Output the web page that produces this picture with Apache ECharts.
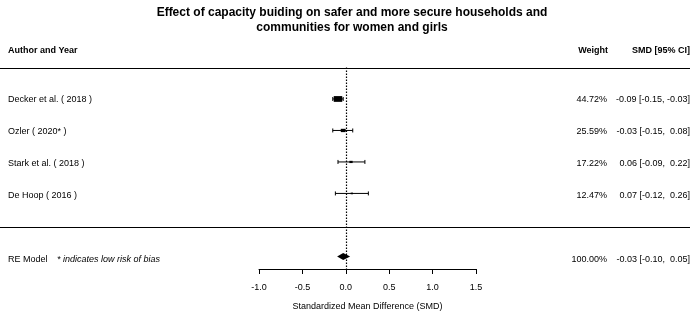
<!DOCTYPE html>
<html>
<head>
<meta charset="utf-8">
<script src="https://cdn.jsdelivr.net/npm/echarts@6/dist/echarts.min.js"></script>
<style>
  html, body { margin: 0; padding: 0; background: #fff; }
  #main { width: 692px; height: 316px; }
</style>
</head>
<body>
<div id="main"></div>
<script>
// study data
const studies = ['Decker et al. ( 2018 )', 'Ozler ( 2020* )', 'Stark et al. ( 2018 )', 'De Hoop ( 2016 )'];
const estimates = [-0.09, -0.03, 0.06, 0.07];
const lower = [-0.15, -0.15, -0.09, -0.12];
const upper = [-0.03, 0.08, 0.22, 0.26];
const weights = [44.72, 25.59, 17.22, 12.47];
// pooled RE model
const reEstimate = -0.03;
const reLower = -0.10;
const reUpper = 0.05;
const reWeight = 100.00;
const xTicks = [-1.0, -0.5, 0.0, 0.5, 1.0, 1.5];

const FONT = 'Liberation Sans, Arial, sans-serif';
const REROW = 6;
const COL_NAME = 8, COL_WEIGHT = 607, COL_SMD = 690;

function fmt(v) { return (v < 0 ? '' : ' ') + v.toFixed(2); }
function ciText(e, l, u) { return e.toFixed(2) + ' [' + fmt(l) + ', ' + fmt(u) + ']'; }

const forestData = studies.map((s, i) => [estimates[i], lower[i], upper[i], i + 1, weights[i]]);

// text rows: [x column, row, text, align, weight/style]
const textRows = [];
textRows.push([COL_NAME, -0.53, 'Author and Year', 'left', 'bold']);
textRows.push([COL_WEIGHT + 1, -0.53, 'Weight', 'right', 'bold']);
textRows.push([COL_SMD, -0.53, 'SMD [95% CI]', 'right', 'bold']);
studies.forEach((s, i) => {
  textRows.push([COL_NAME, i + 1, s, 'left', 'normal']);
  textRows.push([COL_WEIGHT, i + 1, weights[i].toFixed(2) + '%', 'right', 'normal']);
  textRows.push([COL_SMD, i + 1, ciText(estimates[i], lower[i], upper[i]), 'right', 'normal']);
});
textRows.push([COL_NAME, REROW, 'RE Model', 'left', 'normal']);
textRows.push([57, REROW, '* indicates low risk of bias', 'left', 'italic']);
textRows.push([COL_WEIGHT, REROW, reWeight.toFixed(2) + '%', 'right', 'normal']);
textRows.push([COL_SMD, REROW, ciText(reEstimate, reLower, reUpper), 'right', 'normal']);

const chart = echarts.init(document.getElementById('main'));
const option = {
  animation: false,
  title: {
    text: 'Effect of capacity buiding on safer and more secure households and\ncommunities for women and girls',
    left: 347,
    textAlign: 'center',
    top: 0,
    textStyle: { fontFamily: FONT, fontSize: 12, fontWeight: 'bold', color: '#000', lineHeight: 15 }
  },
  grid: [
    { left: 259, right: 216, top: 36, bottom: 44 },
    { left: 0, right: 0, top: 36, bottom: 44 }
  ],
  xAxis: [{
    gridIndex: 0,
    type: 'value',
    position: 'bottom',
    min: -1,
    max: 1.5,
    interval: 0.5,
    name: 'Standardized Mean Difference (SMD)',
    nameLocation: 'middle',
    nameGap: 33,
    nameTextStyle: { fontFamily: FONT, fontSize: 9, color: '#000' },
    axisLine: { show: true, onZero: false, lineStyle: { color: '#000', width: 1 } },
    axisTick: { show: true, length: 5, lineStyle: { color: '#000' } },
    axisLabel: { fontFamily: FONT, fontSize: 9, color: '#000', margin: 14, formatter: v => v.toFixed(1) },
    splitLine: { show: false }
  }, {
    gridIndex: 1, type: 'value', min: 0, max: 692, show: false
  }],
  yAxis: [{
    gridIndex: 0, type: 'value', min: -1, max: 6.4, inverse: true, show: false
  }, {
    gridIndex: 1, type: 'value', min: -1, max: 6.4, inverse: true, show: false
  }],
  series: [{
    type: 'custom',
    xAxisIndex: 0, yAxisIndex: 0,
    clip: false,
    data: forestData,
    renderItem: function (params, api) {
      const est = api.coord([api.value(0), api.value(3)]);
      const lo = api.coord([api.value(1), api.value(3)]);
      const hi = api.coord([api.value(2), api.value(3)]);
      const w = api.value(4) * 0.19;
      const h = w * 0.68;
      const y = est[1];
      const style = { stroke: '#000', lineWidth: 1 };
      return {
        type: 'group',
        children: [
          { type: 'line', shape: { x1: lo[0], y1: y, x2: hi[0], y2: y }, style: style },
          { type: 'line', shape: { x1: lo[0], y1: y - 2, x2: lo[0], y2: y + 2 }, style: style },
          { type: 'line', shape: { x1: hi[0], y1: y - 2, x2: hi[0], y2: y + 2 }, style: style },
          { type: 'rect', shape: { x: est[0] - w / 2, y: y - h / 2, width: w, height: h }, style: { fill: '#000' } }
        ]
      };
    },
    markLine: {
      silent: true,
      symbol: 'none',
      label: { show: false },
      lineStyle: { color: '#000', type: [1.5, 1.5], width: 1.2 },
      data: [[{ coord: [0, 0] }, { coord: [0, 6.4] }]]
    }
  }, {
    type: 'custom',
    xAxisIndex: 0, yAxisIndex: 0,
    clip: false,
    data: [[reEstimate, reLower, reUpper, REROW]],
    renderItem: function (params, api) {
      const c = api.coord([api.value(0), api.value(3)]);
      const l = api.coord([api.value(1), api.value(3)]);
      const r = api.coord([api.value(2), api.value(3)]);
      return {
        type: 'polygon',
        shape: { points: [[l[0], c[1]], [c[0], c[1] - 3.5], [r[0], c[1]], [c[0], c[1] + 3.5]] },
        style: { fill: '#000' }
      };
    }
  }, {
    type: 'custom',
    xAxisIndex: 1, yAxisIndex: 1,
    clip: false,
    data: textRows,
    renderItem: function (params, api) {
      const d = textRows[params.dataIndex];
      const p = api.coord([d[0], d[1]]);
      return {
        type: 'text',
        x: p[0], y: p[1],
        style: {
          text: d[2],
          align: d[3],
          verticalAlign: 'middle',
          fontFamily: FONT,
          fontSize: 9,
          fontWeight: d[4] === 'bold' ? 'bold' : 'normal',
          fontStyle: d[4] === 'italic' ? 'italic' : 'normal',
          fill: '#000'
        }
      };
    },
    markLine: {
      silent: true,
      symbol: 'none',
      label: { show: false },
      lineStyle: { color: '#000', type: 'solid', width: 1 },
      data: [
        [{ coord: [0, 0] }, { coord: [690, 0] }],
        [{ coord: [0, 5] }, { coord: [690, 5] }]
      ]
    }
  }]
};
chart.setOption(option);
</script>
</body>
</html>
